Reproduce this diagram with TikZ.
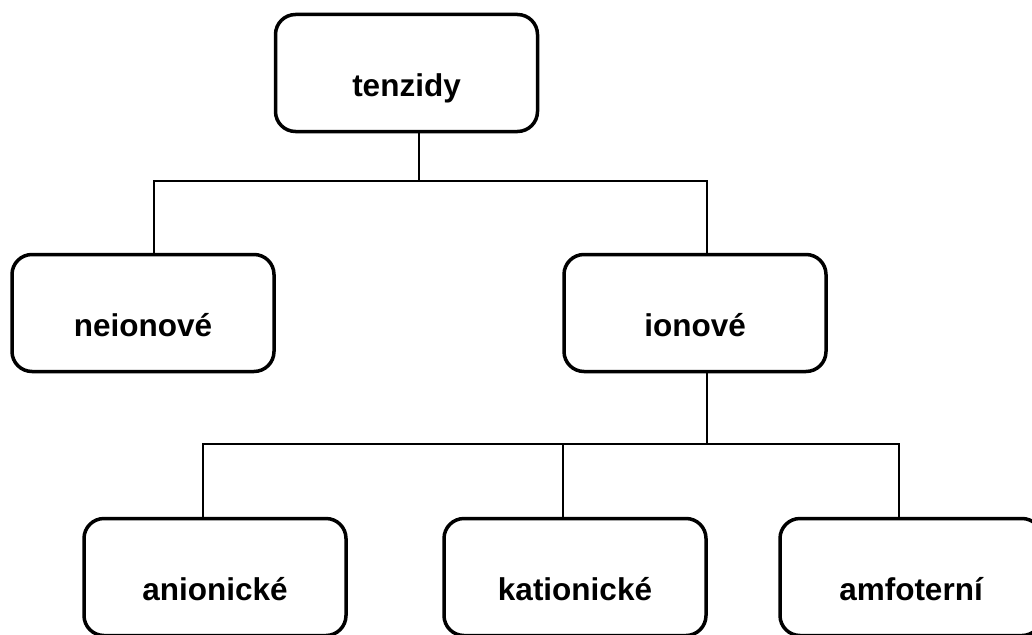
\documentclass[tikz,border=0pt]{standalone}
\usepackage{fontspec}
\setmainfont{Liberation Sans}
\begin{document}
\begin{tikzpicture}[x=1pt,y=-1pt,
  box/.style={draw=black, line width=3.5pt, rounded corners=20pt, fill=white,
    minimum width=262pt, minimum height=117pt, inner sep=0pt,
    text height=46pt, text depth=0pt,
    font=\fontsize{31.5}{38}\selectfont\bfseries},
  conn/.style={draw=black, line width=2pt}]
\useasboundingbox (0,0) rectangle (1032,634);
\clip (0,0) rectangle (1032,634);
\fill[white] (0,0) rectangle (1032,634);
\node[box] (tenzidy) at (406.5,73) {tenzidy};
\node[box] (neionove) at (143,313) {neionové};
\node[box] (ionove) at (695,313) {ionové};
\node[box] (anionicke) at (215,577) {anionické};
\node[box] (kationicke) at (575,577) {kationické};
\node[box] (amfoterni) at (911,577) {amfoterní};
\coordinate (j1) at (419,181);
\coordinate (j2) at (707,444);
\draw[conn] ([xshift=12.5pt]tenzidy.south) -- (j1);
\draw[conn] ([xshift=11pt]neionove.north) |- (j1) -| ([xshift=12pt]ionove.north);
\draw[conn] ([xshift=12pt]ionove.south) -- (j2);
\draw[conn] ([xshift=-12pt]anionicke.north) |- (j2) -| ([xshift=-12pt]amfoterni.north);
\draw[conn] ([xshift=-12pt]kationicke.north) -- ([xshift=-12pt]kationicke.north |- j2);
\end{tikzpicture}
\end{document}
